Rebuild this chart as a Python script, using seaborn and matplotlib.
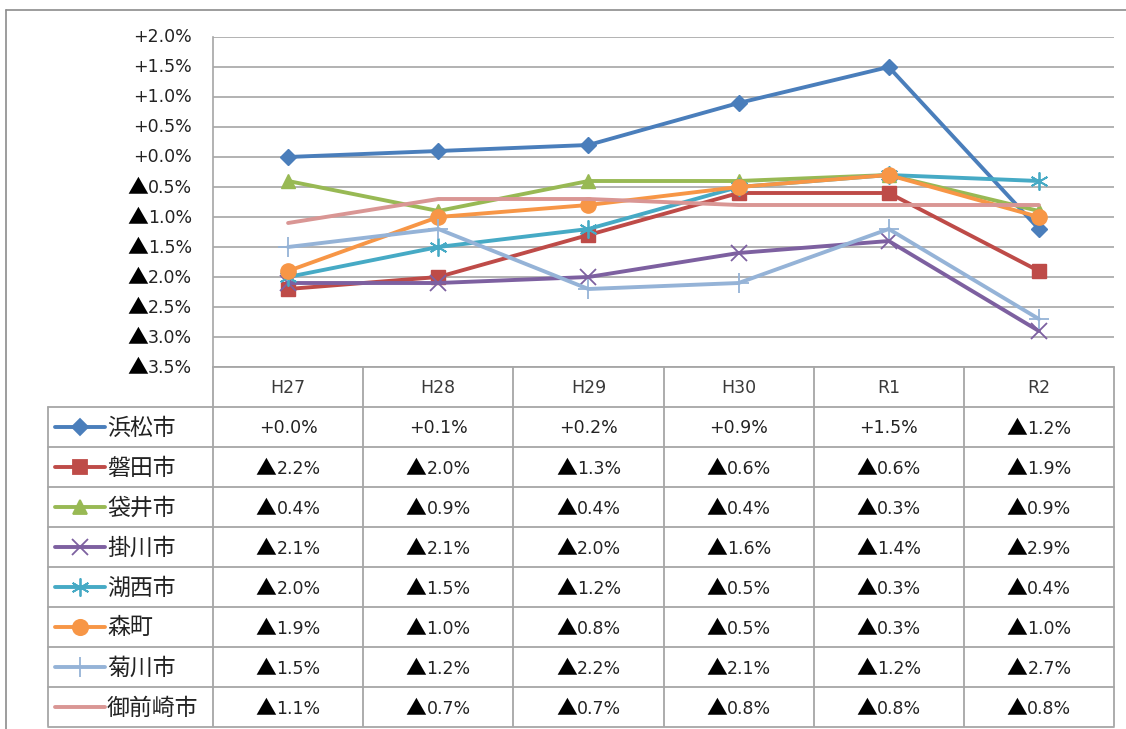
import matplotlib
matplotlib.use("Agg")
import matplotlib.pyplot as plt
import seaborn as sns
import numpy as np
from matplotlib.lines import Line2D
from matplotlib.offsetbox import TextArea, HPacker, AnnotationBbox

sns.set_theme(style="white")
plt.rcParams['font.family'] = ['DejaVu Sans', 'Noto Sans CJK JP']

# ---- data ----
years = ["H27", "H28", "H29", "H30", "R1", "R2"]
cities = ["浜松市", "磐田市", "袋井市", "掛川市", "湖西市", "森町", "菊川市", "御前崎市"]
hamamatsu = [0.0, 0.1, 0.2, 0.9, 1.5, -1.2]
iwata = [-2.2, -2.0, -1.3, -0.6, -0.6, -1.9]
fukuroi = [-0.4, -0.9, -0.4, -0.4, -0.3, -0.9]
kakegawa = [-2.1, -2.1, -2.0, -1.6, -1.4, -2.9]
kosai = [-2.0, -1.5, -1.2, -0.5, -0.3, -0.4]
morimachi = [-1.9, -1.0, -0.8, -0.5, -0.3, -1.0]
kikugawa = [-1.5, -1.2, -2.2, -2.1, -1.2, -2.7]
omaezaki = [-1.1, -0.7, -0.7, -0.8, -0.8, -0.8]
series = [hamamatsu, iwata, fukuroi, kakegawa, kosai, morimachi, kikugawa, omaezaki]
y_ticks = [2.0, 1.5, 1.0, 0.5, 0.0, -0.5, -1.0, -1.5, -2.0, -2.5, -3.0, -3.5]

# ---- styles ----
colors = ["#4A7EBB", "#BE4B48", "#98B954", "#7D60A0", "#46AAC5", "#F79646", "#95B3D7", "#D99694"]
markers = ["D", "s", "^", "x", (6, 2, 0), "o", "+", None]
msizes = [8, 10, 10, 12, 13, 11, 15, 0]
NUM_FS = 12.5
TRI_FS = 15
TXT = "#222222"


def value_box(v):
    """Text box: '+x.x%' or big '▲' + 'x.x%'."""
    if v >= 0:
        return TextArea(f"+{v:.1f}%", textprops=dict(fontsize=NUM_FS, color=TXT,
                                                      family="DejaVu Sans"))
    tri = TextArea("▲", textprops=dict(fontsize=TRI_FS, color="black",
                                       family="Noto Sans CJK JP"))
    num = TextArea(f"{-v:.1f}%", textprops=dict(fontsize=NUM_FS, color=TXT,
                                                 family="DejaVu Sans"))
    return HPacker(children=[tri, num], align="baseline", pad=0, sep=0)


W, H = 1126, 729
fig = plt.figure(figsize=(W / 100, H / 100), dpi=100)
fig.patch.set_facecolor("white")

ov = fig.add_axes([0, 0, 1, 1], zorder=0)
ov.set_xlim(0, W)
ov.set_ylim(H, 0)
ov.axis("off")

PL, PR, PT, PB = 213, 1114, 37, 367
ax = fig.add_axes([PL / W, 1 - PB / H, (PR - PL) / W, (PB - PT) / H], zorder=2)
ax.patch.set_alpha(0)

xi = list(range(len(years)))
for vals, c, m, ms in zip(series, colors, markers, msizes):
    kw = dict(color=c, linewidth=2.8, ax=ax)
    if m is not None:
        kw.update(marker=m, markersize=ms, markeredgecolor=c, markerfacecolor=c,
                  markeredgewidth=1.3 if m in ("x", "+") or isinstance(m, tuple) else 1)
    sns.lineplot(x=xi, y=vals, **kw)

ax.set_xlim(-0.5, len(years) - 0.5)
ax.set_ylim(-3.5, 2.0)
ax.set_yticks(y_ticks)
ax.set_yticklabels([])
ax.tick_params(axis="y", length=0)
ax.set_xticks([])
ax.grid(axis="y", color="#A6A6A6", linewidth=1.2)
ax.set_axisbelow(True)
for s in ["top", "right", "bottom"]:
    ax.spines[s].set_visible(False)
ax.spines["left"].set_color("#A6A6A6")
ax.spines["left"].set_linewidth(1.2)
ax.set_xlabel("")
ax.set_ylabel("")

# custom y tick labels (right-aligned, 21px left of the axis)
for v in y_ticks:
    ab = AnnotationBbox(value_box(v), (0, v), xycoords=ax.get_yaxis_transform(),
                        xybox=(-21 * 0.72, 0), boxcoords="offset points",
                        box_alignment=(1, 0.5), frameon=False, pad=0,
                        annotation_clip=False)
    ax.add_artist(ab)

# outer chart border (top and left)
ov.plot([6, W], [10, 10], color="#8C8C8C", lw=1.2)
ov.plot([6, 6], [10, H], color="#8C8C8C", lw=1.2)

# ---- data table ----
gc = "#A6A6A6"
col_w = (PR - PL) / len(years)
row_h = 40
head_bot = 407
n = len(cities)
tab_bot = head_bot + n * row_h - 1
LEG_L = 48
for j in range(len(years) + 1):
    x = PL + j * col_w
    ov.plot([x, x], [PB, tab_bot], color=gc, lw=1.3)
ov.plot([LEG_L, LEG_L], [head_bot, tab_bot], color=gc, lw=1.3)
ov.plot([PL, PR], [PB, PB], color=gc, lw=1.3)
for i in range(n + 1):
    y = head_bot + i * row_h
    ov.plot([LEG_L, PR], [y, y], color=gc, lw=1.3)
for j, yr in enumerate(years):
    ov.text(PL + (j + 0.5) * col_w, (PB + head_bot) / 2 + 1, yr, ha="center", va="center",
            fontsize=NUM_FS, color="#3A3A3A")
for i, (name, vals, c, m, ms) in enumerate(zip(cities, series, colors, markers, msizes)):
    yc = head_bot + (i + 0.5) * row_h
    ov.add_line(Line2D([55, 80, 105], [yc, yc, yc], color=c, lw=2.8,
                       marker=m, markevery=[1] if m is not None else None,
                       markersize=ms, markeredgecolor=c, markerfacecolor=c, markeredgewidth=1.3))
    ov.text(107, yc + 1, name, ha="left", va="center", fontsize=16.5, color=TXT)
    for j, v in enumerate(vals):
        ab = AnnotationBbox(value_box(v), (PL + (j + 0.5) * col_w, yc + 1), xycoords="data",
                            box_alignment=(0.5, 0.5), frameon=False, pad=0,
                            annotation_clip=False)
        ov.add_artist(ab)

fig.savefig("out.png", dpi=100)
